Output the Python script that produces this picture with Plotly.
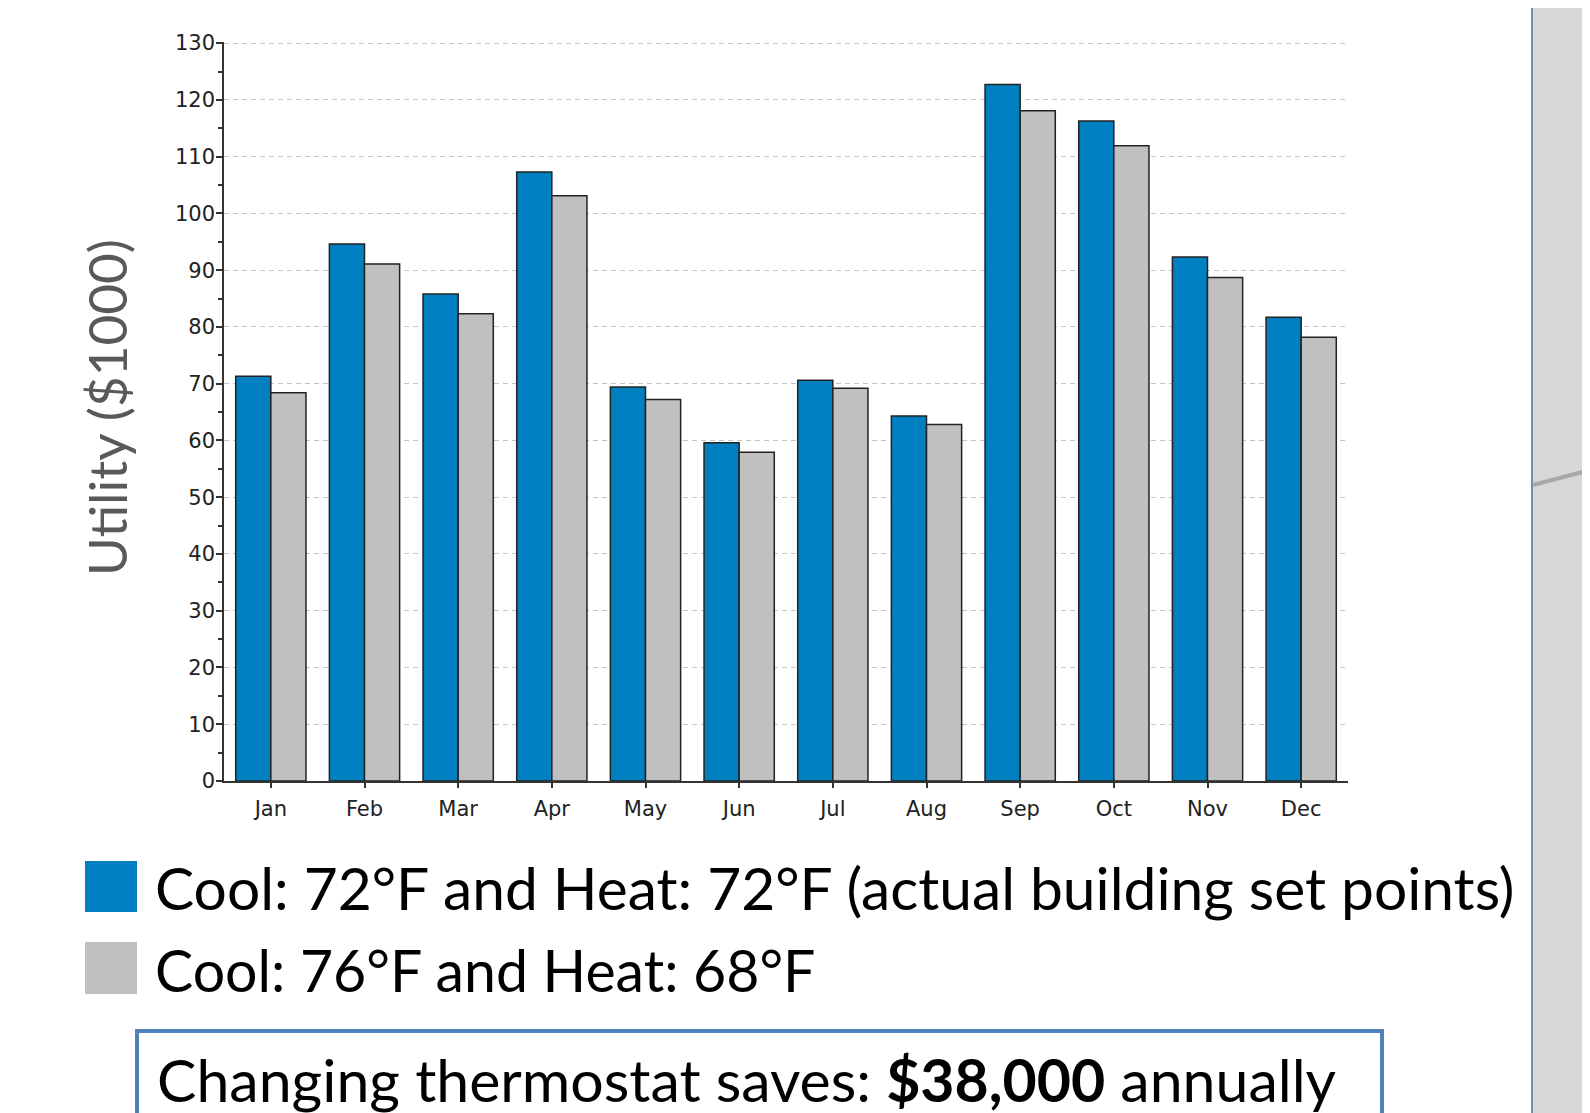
import plotly.graph_objects as go

# ---- data ----
months = ["Jan", "Feb", "Mar", "Apr", "May", "Jun", "Jul", "Aug", "Sep", "Oct", "Nov", "Dec"]
actual_setpoints = [71.3, 94.6, 85.8, 107.3, 69.4, 59.6, 70.6, 64.3, 122.7, 116.3, 92.3, 81.7]
adjusted_setpoints = [68.4, 91.1, 82.3, 103.1, 67.2, 57.9, 69.2, 62.8, 118.1, 111.9, 88.7, 78.2]
series_names = ["Cool: 72°F and Heat: 72°F (actual building set points)",
                "Cool: 76°F and Heat: 68°F"]
y_ticks = list(range(0, 131, 10))
y_title = "Utility ($1000)"
savings_text = "Changing thermostat saves: <b>$38,000</b> annually"

# ---- layout geometry (page pixels; page body has an 8px margin) ----
PAGE_W, PAGE_H = 1590, 1113
OFF = 8
W, H = PAGE_W - OFF, PAGE_H - OFF
L, R, T, B = 224, 1348, 42, 781   # plot area in page pixels

def px(x):
    return (x - L) / (R - L)

def py(y):
    return (B - y) / (B - T)

BLUE = "#0080c0"
GREY = "#c0c0c0"
EDGE = "#222222"

fig = go.Figure()
fig.add_bar(x=months, y=actual_setpoints, name=series_names[0],
            marker=dict(color=BLUE, line=dict(color=EDGE, width=1.5)))
fig.add_bar(x=months, y=adjusted_setpoints, name=series_names[1],
            marker=dict(color=GREY, line=dict(color=EDGE, width=1.5)))

fig.update_layout(
    width=W, height=H, autosize=False,
    margin=dict(l=L - OFF, r=PAGE_W - R, t=T - OFF, b=PAGE_H - B, pad=0),
    barmode="group", bargap=0.25, bargroupgap=0,
    plot_bgcolor="white", paper_bgcolor="white",
    showlegend=False,
)

tickfont = dict(family="DejaVu Sans", size=21, color="#222222")
fig.update_yaxes(
    range=[0, 130.2], tickvals=y_ticks, tickfont=tickfont,
    showgrid=True, gridcolor="#c4c4c4", griddash="5px,4px", gridwidth=1,
    showline=True, linecolor="#333333", linewidth=1.5,
    ticks="outside", ticklen=6, tickcolor="#333333", tickwidth=1.5,
    ticklabelstandoff=-3,
    minor=dict(dtick=5, ticks="outside", ticklen=4, tickcolor="#333333", showgrid=False),
    zeroline=False,
)
fig.update_xaxes(
    tickfont=tickfont, showline=True, linecolor="#333333", linewidth=1.5,
    ticks="outside", ticklen=5, tickcolor="#333333", tickwidth=1.5,
    ticklabelstandoff=3,
    range=[-0.5, 11.5],
)

# y-axis title
fig.add_annotation(x=px(106), y=py(408), xref="paper", yref="paper",
                   text=y_title, textangle=-90, showarrow=False,
                   xanchor="center", yanchor="middle",
                   font=dict(family="Lato", size=53, color="#595959"))

# legend swatches + labels
swatches = [(861, 912, BLUE, 887, 58.7), (942, 994, GREY, 970, 57.2)]
for (y0, y1, col, yc, fs), name in zip(swatches, series_names):
    fig.add_shape(type="rect", xref="paper", yref="paper",
                  x0=px(85), x1=px(137), y0=py(y1), y1=py(y0),
                  fillcolor=col, line=dict(width=0))
    fig.add_annotation(x=px(153), y=py(yc), xref="paper", yref="paper",
                       text=name, showarrow=False, xanchor="left", yanchor="middle",
                       font=dict(family="Lato", size=fs, color="#000000"))

# savings box
fig.add_shape(type="rect", xref="paper", yref="paper",
              x0=px(137), x1=px(1382), y0=py(1140), y1=py(1031),
              fillcolor="rgba(0,0,0,0)", line=dict(color="#4f81bd", width=4))
fig.add_annotation(x=px(155), y=py(1079), xref="paper", yref="paper",
                   text=savings_text, showarrow=False, xanchor="left", yanchor="middle",
                   font=dict(family="Lato", size=59, color="#000000"))

# grey side panel at right edge
fig.add_shape(type="rect", xref="paper", yref="paper",
              x0=px(1532), x1=px(1600), y0=py(1120), y1=py(-10),
              fillcolor="#d7d7d7", line=dict(width=0), layer="below")
fig.add_shape(type="line", xref="paper", yref="paper",
              x0=px(1532), x1=px(1532), y0=py(1120), y1=py(-10),
              line=dict(color="#7890aa", width=2))
fig.add_shape(type="line", xref="paper", yref="paper",
              x0=px(1533), x1=px(1590), y0=py(485), y1=py(470),
              line=dict(color="#a8a8a8", width=4))

fig.write_html("out.html")
